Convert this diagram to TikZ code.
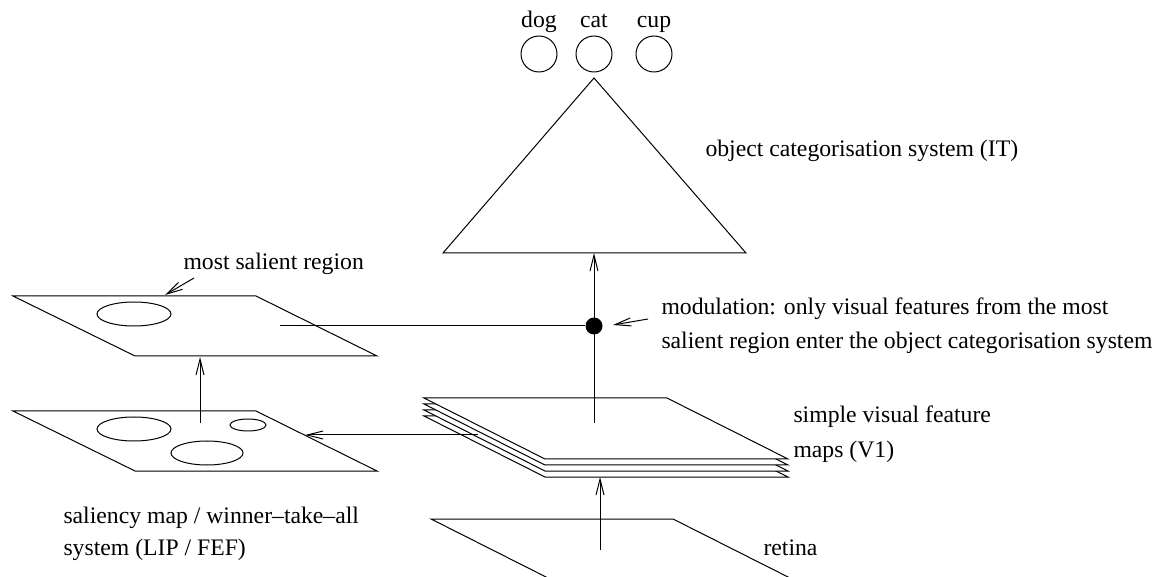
\documentclass[tikz,border=0pt]{standalone}
\usepackage{fontspec}
\setmainfont{Liberation Serif}
\usetikzlibrary{arrows.meta}
\begin{document}
\begin{tikzpicture}[x=1pt,y=-1pt,line width=1pt,
  lbl/.style={font=\fontsize{23.7}{34}\selectfont,inner sep=0pt,anchor=base west},
  toplbl/.style={font=\fontsize{23.7}{34}\selectfont,inner sep=0pt,anchor=base},
  unit/.style={circle,draw,minimum size=36pt,inner sep=0pt},
  sheet/.style={draw,fill=white},
  arr/.style={-{Straight Barb[length=16pt,width=8pt]}},
  dot/.style={circle,fill=black,minimum size=17pt,inner sep=0pt}]
\clip (0,0) rectangle (1163,577);

% category units on top of the hierarchy
\node[unit] (dog) at (539,54) {};
\node[unit] (cat) at (594,54) {};
\node[unit] (cup) at (654,54) {};
\node[toplbl] (doglbl) at (539,28) {dog};
\node[toplbl] (catlbl) at (594,28) {cat};
\node[toplbl] (cuplbl) at (654,28) {cup};

% object categorisation triangle
\coordinate (apex) at (594,78);
\coordinate (baseR) at (746,253);
\coordinate (baseL) at (443,253);
\coordinate (baseM) at (594,253);
\draw (apex) -- (baseR) -- (baseL) -- cycle;
\node[lbl] (itlbl) at (705,157) {object categorisation system (IT)};

% most salient region plane
\draw (13,296) -- (256,296) -- (377,356) -- (135,356) -- cycle;
\draw (134,314) ellipse [x radius=37pt,y radius=12pt];
\node[lbl] (mslbl) at (183,270) {most salient region};
\coordinate (msfrom) at (194,278);
\coordinate (msto) at (165,295);
\draw[arr] (msfrom) -- (msto);

% saliency map plane
\draw (13,411) -- (256,411) -- (377,471) -- (135,471) -- cycle;
\draw (134,429) ellipse [x radius=37pt,y radius=12pt];
\draw (207,453) ellipse [x radius=36pt,y radius=12pt];
\draw (248,425) ellipse [x radius=18pt,y radius=6pt];
\node[lbl] (sal1) at (63,523) {saliency map / winner--take--all};
\node[lbl] (sal2) at (63,555) {system (LIP / FEF)};

% stack of simple feature maps
\foreach \k in {3,2,1,0} {
  \draw[sheet] (424,{398+6*\k}) -- (667,{398+6*\k}) -- (788,{459+6*\k}) -- (545,{459+6*\k}) -- cycle;
}
\node[lbl] (v1a) at (793,423) {simple visual feature};
\node[lbl] (v1b) at (793,457) {maps (V1)};

% retina
\draw (431,519) -- (673,519) -- (794,580) -- (552,580) -- cycle;
\node[lbl] (retlbl) at (763,555) {retina};

% connections
\coordinate (retsrc) at (600,550);
\coordinate (mapsbot) at (600,477);
\draw[arr] (retsrc) -- (mapsbot);

\coordinate (mapstop) at (594,423);
\draw[arr] (mapstop) -- (baseM);

\coordinate (mapsleft) at (478,435);
\coordinate (salright) at (305,435);
\draw[arr] (mapsleft) -- (salright);

\coordinate (salsrc) at (200,423);
\coordinate (msbot) at (200,357);
\draw[arr] (salsrc) -- (msbot);

\node[dot] (mod) at (594,326) {};
\coordinate (mssrc) at (280,326);
\draw (mssrc) -- (mod);

\coordinate (modfrom) at (648,319);
\coordinate (modto) at (613,325);
\draw[arr] (modfrom) -- (modto);
\node[lbl] (mod1) at (661,315) {modulation: only visual features from the most};
\node[lbl] (mod2) at (661,349) {salient region enter the object categorisation system};
\end{tikzpicture}
\end{document}
